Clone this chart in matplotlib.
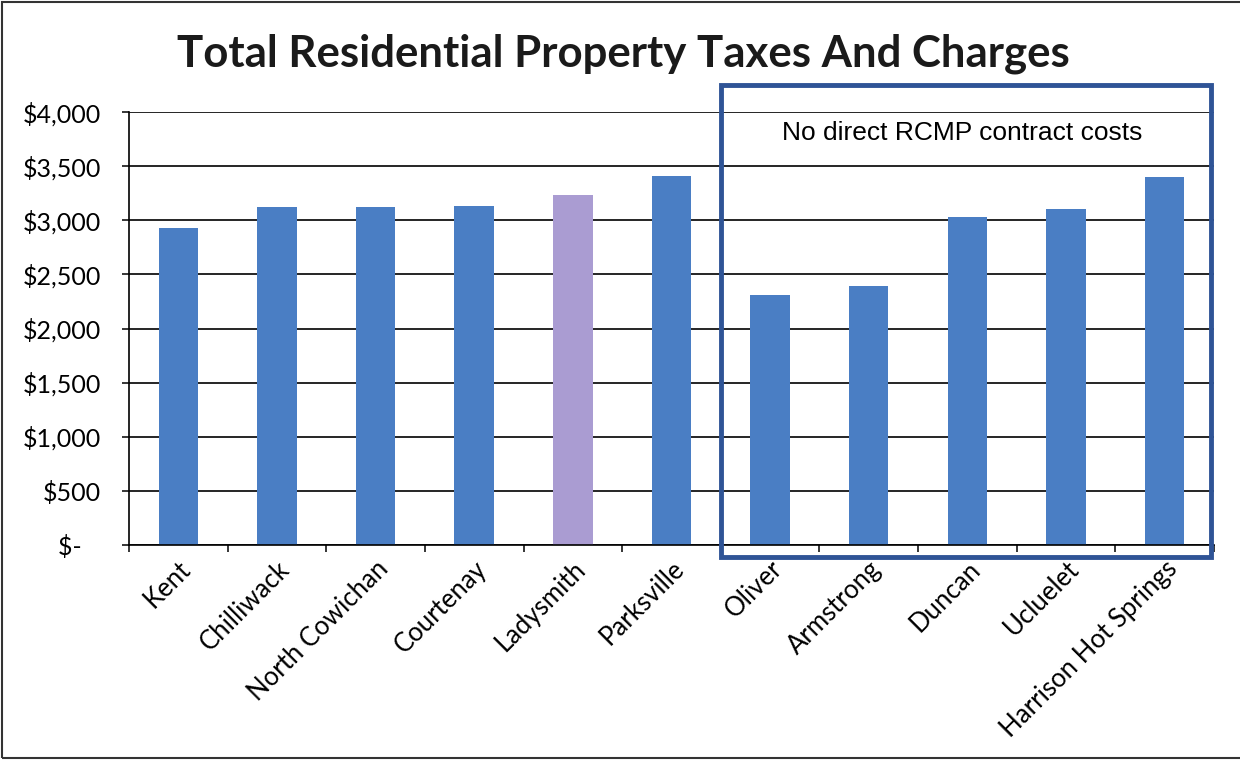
import matplotlib.pyplot as plt
from matplotlib.patches import Rectangle
from matplotlib.ticker import FuncFormatter, FixedLocator

# municipalities and their total residential taxes + charges
towns = ['Kent', 'Chilliwack', 'North Cowichan', 'Courtenay', 'Ladysmith', 'Parksville',
         'Oliver', 'Armstrong', 'Duncan', 'Ucluelet', 'Harrison Hot Springs']
totals = [2930, 3120, 3125, 3135, 3235, 3410, 2310, 2395, 3030, 3100, 3400]
highlight = 'Ladysmith'
# towns with no direct RCMP contract costs sit at the end of the list
no_rcmp_start = 6

blue = '#4A7EC4'
lavender = '#AA9CD2'
box_blue = '#2F5496'

fig = plt.figure(figsize=(12.4, 7.61), dpi=100)
ax = fig.add_axes([0.104, 0.2838, 0.875, 0.569])

x = list(range(len(towns)))
colors = [lavender if t == highlight else blue for t in towns]
ax.bar(x, totals, width=0.4, color=colors, zorder=3)

ax.set_xlim(-0.5, len(towns) - 0.5)
ax.set_ylim(0, 4000)
ax.set_yticks(range(0, 4001, 500))


def dollars(v, pos):
    # accounting style: zero shows as a dash
    if v == 0:
        return '$-   '
    return '${:,.0f}'.format(v)


ax.yaxis.set_major_formatter(FuncFormatter(dollars))
ax.grid(True, axis='y', color='black', linewidth=1.2, zorder=1)

# category labels centred on bars, tick marks between categories
ax.set_xticks(x)
ax.set_xticklabels(towns, rotation=45, ha='right', va='top', rotation_mode='anchor',
                   fontsize=18.5, family='Lato')
ax.tick_params(axis='x', which='major', length=0, pad=8)
ax.xaxis.set_minor_locator(FixedLocator([i - 0.5 for i in range(len(towns) + 1)]))
ax.tick_params(axis='x', which='minor', length=5, width=1.1, color='black', direction='out')
ax.tick_params(axis='y', length=5, width=1.1, color='black', pad=15)
for lbl in ax.get_yticklabels():
    lbl.set_fontsize(18)
    lbl.set_family('Lato')

for side in ['top', 'right']:
    ax.spines[side].set_visible(False)
for side in ['left', 'bottom']:
    ax.spines[side].set_linewidth(1.2)
    ax.spines[side].set_color('black')
    ax.spines[side].set_zorder(4)

# box around the no-RCMP group
box = Rectangle((no_rcmp_start - 0.5, -111), len(towns) - 0.53 - (no_rcmp_start - 0.5), 4360,
                fill=False, edgecolor=box_blue, linewidth=3.5, clip_on=False, zorder=5)
ax.add_patch(box)
ax.text(7.95, 3806, 'No direct RCMP contract costs', ha='center', va='center',
        fontsize=19, family='Liberation Sans', color='black', zorder=6)

fig.text(0.5024, 0.913, 'Total Residential Property Taxes And Charges', ha='center',
         va='baseline', fontsize=31.5, fontweight='bold', family='Lato', color='#1a1a1a')

# page frame
fig.add_artist(Rectangle((0.002, 0.004), 1.2, 0.994, transform=fig.transFigure,
                         fill=False, edgecolor='#333333', linewidth=1.5))

fig.savefig('out.png', dpi=100)
